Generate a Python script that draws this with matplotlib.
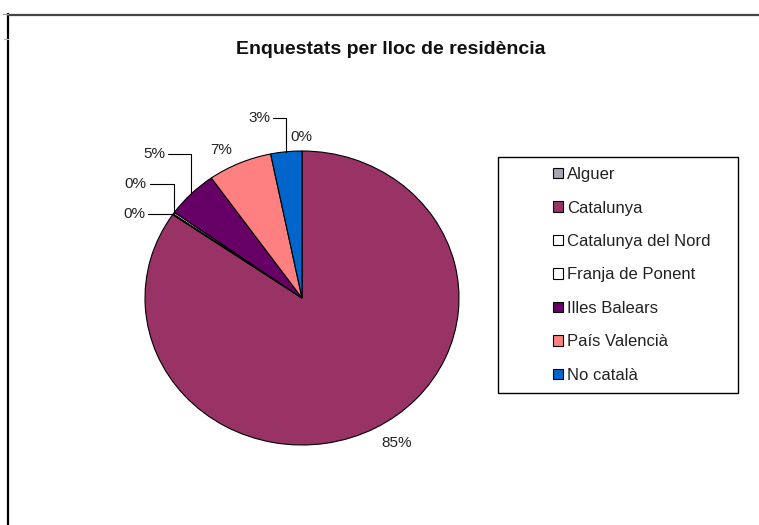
import numpy as np
import matplotlib.pyplot as plt
from matplotlib.lines import Line2D
from matplotlib.patches import Rectangle

# data
regions = ["Alguer", "Catalunya", "Catalunya del Nord", "Franja de Ponent",
           "Illes Balears", "País Valencià", "No català"]
shares = [0.0, 84.6, 0.1, 0.2, 5.3, 6.6, 3.2]
colors = ["#a6a6b4", "#993366", "#ffffff", "#ffffff", "#660066", "#ff8080", "#0066cc"]
title = "Enquestats per lloc de residència"

# label placement (pixel offsets from the wedge edge) and leader lines
label_offsets = [(-1, 14), (22, -15), (-39, 0), (-38, 29), (-37, 40), (-18, 13), (-27, 34)]
leaders = [False, False, True, True, True, False, True]

W, H = 759, 525
plt.rcParams['font.family'] = ['Liberation Sans', 'DejaVu Sans']


def fx(px):
    return px / W


def fy(py):
    return 1 - py / H


fig = plt.figure(figsize=(W / 100, H / 100), dpi=100)

# sheet frame lines
fig.add_artist(Line2D([fx(8), fx(8)], [fy(14), fy(525)], color='black', lw=1.6))
fig.add_artist(Line2D([fx(8), fx(759)], [fy(15), fy(15)], color='#444444', lw=1.6))
fig.add_artist(Line2D([fx(3), fx(8)], [fy(14), fy(14)], color='#999999', lw=0.8))
fig.add_artist(Line2D([fx(4), fx(8)], [fy(39), fy(39)], color='#bbbbbb', lw=0.8))

fig.text(fx(391), fy(50), title, ha='center', va='center',
         fontsize=14, fontweight='bold', color='#111111')

# pie (slightly stretched, like the source)
ax = fig.add_axes([fx(145), fy(445), 314 / W, 294 / H])
wedges, _ = ax.pie(shares, colors=colors, startangle=90, counterclock=False,
                   wedgeprops=dict(edgecolor='black', linewidth=0.8))
ax.set_aspect('auto')
ax.set_xlim(-1, 1)
ax.set_ylim(-1, 1)

for w, v, off, lead in zip(wedges, shares, label_offsets, leaders):
    mid = np.deg2rad((w.theta1 + w.theta2) / 2)
    pt = (np.cos(mid), np.sin(mid))
    kw = {}
    if lead:
        kw['arrowprops'] = dict(arrowstyle='-', color='black', lw=0.8,
                                connectionstyle='angle,angleA=0,angleB=90,rad=0',
                                relpos=(1, 0.5), shrinkA=0, shrinkB=0)
    ax.annotate(f"{v:.0f}%", xy=pt, xytext=off, textcoords='offset pixels',
                ha='center', va='center', fontsize=11, color='#222222', **kw)

# legend box
fig.add_artist(Rectangle((fx(498), fy(393)), 240 / W, 236 / H, transform=fig.transFigure,
                         fill=False, edgecolor='black', lw=1.0))
leg = fig.legend(wedges, regions, loc='upper left', bbox_to_anchor=(fx(553), fy(167)),
                 frameon=False, fontsize=12, handlelength=0.62, handleheight=0.58,
                 handletextpad=0.2, labelspacing=1.11, borderpad=0, borderaxespad=0)
for t in leg.get_texts():
    t.set_color('#222222')

fig.savefig("out.png", dpi=100)
